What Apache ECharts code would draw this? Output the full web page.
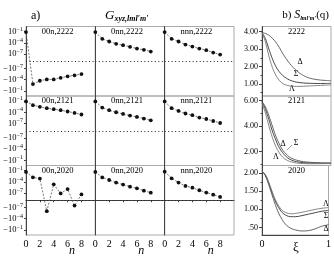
<!DOCTYPE html>
<html><head><meta charset="utf-8">
<script src="https://cdn.jsdelivr.net/npm/echarts@6/dist/echarts.min.js"></script>
<style>html,body{margin:0;padding:0;background:#fff}#c{width:334px;height:256px}</style>
</head><body><div id="c"></div>
<script>
// ---------- data ----------
const nValues = [0, 1, 2, 3, 4, 5, 6, 7, 8];
const panelTitles = [
  ["00n,2222", "0nn,2222", "nnn,2222"],
  ["00n,2121", "0nn,2121", "nnn,2121"],
  ["00n,2020", "0nn,2020", "nnn,2020"]
];
// G_xyz,lml'm' values (panel a)
const g00n_2222 = [0.08, -1.5e-3, -1.9e-4, -8e-5, -8e-5, -3e-5, -1.2e-5, -6.5e-6, -2.9e-6];
const g0nn_2222 = [0.08, 1.2e-3, 2.2e-4, 5.1e-5, 2.3e-5, 8e-6, 2.7e-6, 1.2e-6, 4.2e-7];
const gnnn_2222 = [0.08, 1.2e-3, 2.2e-4, 3.3e-5, 9.5e-6, 2.7e-6, 1.0e-6, 2.2e-7, 6.3e-8];
const g00n_2121 = [0.085, 8.3e-3, 2.9e-3, 1.26e-3, 6.8e-4, 3.6e-4, 1.6e-4, 6.6e-5, 2.5e-5];
const g0nn_2121 = [0.085, 1.9e-3, 3.6e-4, 1.0e-4, 3.5e-5, 1.26e-5, 5.4e-6, 2.0e-6, 6.8e-7];
const gnnn_2121 = [0.085, 1.26e-3, 2.3e-4, 4.6e-5, 1.6e-5, 3.7e-6, 1.5e-6, 4.4e-7, 1.26e-7];
const g00n_2020 = [0.046, 1.6e-3, 7.5e-4, -9.3e-7, 2.0e-5, 7.0e-8, 1.05e-6, -2.8e-8, 3.8e-8];
const g0nn_2020 = [0.046, 1.5e-3, 3.0e-4, 5.9e-5, 1.7e-5, 4.8e-6, 1.7e-6, 3.9e-7, 1.1e-7];
const gnnn_2020 = [0.055, 8.7e-4, 6.0e-5, 7.5e-6, 2.5e-6, 5.0e-7, 1.2e-7, 3.3e-8, 8e-9];
const gTickValues = [1e-1, 1e-4, 1e-7, -1e-7, -1e-4, -1e-1];
const nTickLabels = [0, 2, 4, 6, 8];

// S_lml'm'(q) values (panel b)
const xi = [0, 0.05, 0.1, 0.15, 0.2, 0.25, 0.3, 0.35, 0.4, 0.45, 0.5, 0.6, 0.7, 0.8, 0.9, 1.0];
const s2222_Delta  = [3.95, 3.9, 3.8, 3.62, 3.4, 3.1, 2.75, 2.45, 2.18, 1.95, 1.76, 1.48, 1.32, 1.24, 1.2, 1.18];
const s2222_Sigma  = [3.95, 3.6, 3.0, 2.45, 2.0, 1.7, 1.48, 1.33, 1.22, 1.15, 1.1, 1.05, 1.03, 1.02, 1.02, 1.03];
const s2222_Lambda = [3.95, 3.4, 2.6, 1.95, 1.5, 1.2, 1.02, 0.93, 0.88, 0.86, 0.85, 0.86, 0.88, 0.9, 0.92, 0.94];
const s2121_Delta  = [5.9, 5.5, 4.8, 4.0, 3.2, 2.6, 2.1, 1.8, 1.55, 1.42, 1.32, 1.2, 1.15, 1.12, 1.1, 1.1];
const s2121_Sigma  = [5.9, 5.3, 4.5, 3.6, 2.9, 2.3, 1.9, 1.6, 1.4, 1.28, 1.2, 1.12, 1.09, 1.08, 1.08, 1.08];
const s2121_Lambda = [5.8, 5.0, 4.0, 3.1, 2.4, 1.9, 1.55, 1.35, 1.22, 1.15, 1.1, 1.05, 1.04, 1.04, 1.05, 1.05];
const s2020_Lambda = [2.05, 1.95, 1.75, 1.5, 1.27, 1.1, 0.98, 0.92, 0.89, 0.88, 0.89, 0.92, 0.96, 1.0, 1.03, 1.05];
const s2020_Sigma  = [2.05, 1.94, 1.73, 1.47, 1.23, 1.05, 0.92, 0.85, 0.81, 0.8, 0.8, 0.83, 0.87, 0.91, 0.95, 0.97];
const s2020_Delta  = [2.05, 1.92, 1.68, 1.4, 1.13, 0.9, 0.73, 0.6, 0.52, 0.47, 0.44, 0.41, 0.42, 0.47, 0.54, 0.58];
const sRowNames = ["2222", "2121", "2020"];
const sTickValues = [[1, 2, 3, 4], [2, 4, 6], [0.5, 1, 1.5, 2]];
const sMinorTicks = [[0.5, 1.5, 2.5, 3.5], [1, 3, 5], [0.75, 1.25, 1.75]];
const sRanges = [[0.3, 4.3], [0.9, 6.35], [0.3, 2.2]];
const xiTickLabels = [0, 1];

// ---------- build ----------
const SERIF = "'Liberation Serif', 'DejaVu Serif', serif";
const gSeries = [[g00n_2222, g0nn_2222, gnnn_2222], [g00n_2121, g0nn_2121, gnnn_2121], [g00n_2020, g0nn_2020, gnnn_2020]];
const sSeries = [
  [s2222_Delta, s2222_Sigma, s2222_Lambda],
  [s2121_Delta, s2121_Sigma, s2121_Lambda],
  [s2020_Delta, s2020_Sigma, s2020_Lambda]
];
function symlogPos(v) {
  if (v === 0) return 0;
  const a = Math.log10(Math.abs(v)) + 9;
  return Math.sign(v) * Math.max(0, a);
}
const gTickPos = gTickValues.map(symlogPos);
function gLabel(val) {
  const i = gTickPos.findIndex(p => Math.abs(p - val) < 1e-6);
  if (i < 0) return '';
  const t = gTickValues[i];
  const e = Math.round(Math.log10(Math.abs(t)));
  return '{b|' + (t < 0 ? '\u2212' : '') + '10}{s|\u2212' + (-e) + '}';
}

const colL = [26, 95.33, 164.67], colW = 69.33;
const rowT = [26.5, 96, 165.5], rowH = 69.5;
const rLeft = 262, rW = 69;

const grid = [], xAxis = [], yAxis = [], series = [];
const axisCol = '#444', borderCol = '#aaa';

for (let r = 0; r < 3; r++) {
  for (let c = 0; c < 3; c++) {
    const gi = grid.length;
    grid.push({ left: colL[c], top: rowT[r], width: colW, height: rowH, show: true, borderColor: borderCol, borderWidth: 1, containLabel: false });
    const bottom = r === 2;
    xAxis.push({
      type: 'value', gridIndex: gi, min: 0, max: 10,
      axisLine: { show: bottom, lineStyle: { color: axisCol, width: 1 } },
      axisTick: { show: bottom, length: 2, customValues: nTickLabels, lineStyle: { color: axisCol } },
      axisLabel: { show: bottom, customValues: nTickLabels, fontFamily: SERIF, fontSize: 10, color: '#000', margin: 4 },
      splitLine: { show: false }
    });
    yAxis.push({
      type: 'value', gridIndex: gi, min: -9.4, max: 9.4,
      axisLine: { show: true, onZero: false, lineStyle: { color: axisCol, width: 1 } },
      axisTick: { show: c === 0, length: 2, customValues: gTickPos, lineStyle: { color: axisCol } },
      axisLabel: {
        show: c === 0, customValues: gTickPos, formatter: gLabel, margin: 3,
        rich: {
          b: { fontFamily: SERIF, fontSize: 8.5, color: '#000' },
          s: { fontFamily: SERIF, fontSize: 6, color: '#000', padding: [0, 0, 5, 0] }
        }
      },
      splitLine: { show: false }
    });
    const arr = gSeries[r][c];
    series.push({
      type: 'line', xAxisIndex: gi, yAxisIndex: gi,
      data: nValues.map((n, i) => [n, symlogPos(arr[i])]),
      symbol: 'circle', symbolSize: 3.8, showSymbol: true,
      itemStyle: { color: '#111' },
      lineStyle: { color: '#555', width: 0.8, type: [2, 1.5] },
      animation: false, silent: true,
      markLine: {
        silent: true, symbol: 'none', animation: false,
        label: { show: false },
        lineStyle: { type: [1, 2.5], color: '#222', width: 1 },
        data: [{ yAxis: 0 }]
      }
    });
  }
}

for (let r = 0; r < 3; r++) {
  const gi = grid.length;
  grid.push({ left: rLeft, top: rowT[r], width: rW, height: rowH, show: true, borderColor: borderCol, borderWidth: 1 });
  const bottom = r === 2;
  xAxis.push({
    type: 'value', gridIndex: gi, min: 0, max: 1,
    axisLine: { show: bottom, lineStyle: { color: axisCol } },
    axisTick: { show: false },
    axisLabel: { show: bottom, customValues: xiTickLabels, fontFamily: SERIF, fontSize: 10, color: '#000', margin: 4 },
    splitLine: { show: false }
  });
  const yi = yAxis.length;
  yAxis.push({
    type: 'value', gridIndex: gi, min: sRanges[r][0], max: sRanges[r][1],
    axisLine: { show: true, onZero: false, lineStyle: { color: axisCol } },
    axisTick: { show: true, length: 3, customValues: sTickValues[r], lineStyle: { color: axisCol } },
    axisLabel: {
      show: true, customValues: sTickValues[r], fontFamily: SERIF, fontSize: 8, color: '#000', margin: 4,
      formatter: v => (v < 1 ? v.toFixed(2).replace(/^0/, '') : v.toFixed(2))
    },
    splitLine: { show: false }
  });
  yAxis.push({
    type: 'value', gridIndex: gi, min: sRanges[r][0], max: sRanges[r][1], position: 'left',
    axisLine: { show: false }, axisLabel: { show: false }, splitLine: { show: false },
    axisTick: { show: true, length: 1.5, customValues: sMinorTicks[r], lineStyle: { color: axisCol } }
  });
  const cols = ['#555', '#333', '#777'];
  sSeries[r].forEach((arr, k) => {
    series.push({
      type: 'line', xAxisIndex: gi, yAxisIndex: yi,
      data: xi.map((x, i) => [x, arr[i]]),
      showSymbol: false, smooth: 0.4, animation: false, silent: true,
      lineStyle: { color: cols[k], width: 0.9 }
    });
  });
}

const txt = (x, y, t, size, extra) => ({ type: 'text', x, y, silent: true,
  style: Object.assign({ text: t, font: (extra && extra.italic ? 'italic ' : '') + size + 'px ' + SERIF, fill: '#000', align: 'center', verticalAlign: 'middle' }, extra && extra.style) });

const graphic = [];
for (let r = 0; r < 3; r++) {
  for (let c = 0; c < 3; c++) {
    graphic.push(txt(colL[c] + colW / 2 - 3, rowT[r] + 5, panelTitles[r][c], 8.5));
  }
  graphic.push(txt(rLeft + rW / 2, rowT[r] + 5, sRowNames[r], 8.5));
}
for (let c = 0; c < 3; c++) graphic.push(txt(colL[c] + 46, 251, 'n', 12, { italic: true }));
graphic.push(txt(296, 248, '\u03BE', 13));
// curve labels
const lab = [
  [300, 62, '\u0394'], [296, 74, '\u03A3'], [292, 89, '\u039B'],
  [283, 144, '\u0394'], [296, 143, '\u03A3'], [276, 157, '\u039B'],
  [326, 204, '\u039B'], [326, 216, '\u03A3'], [326, 229, '\u0394']
];
lab.forEach(l => graphic.push(txt(l[0], l[1], l[2], 8)));
graphic.push({ type: 'line', silent: true, shape: { x1: 292, y1: 145, x2: 287, y2: 150 }, style: { stroke: '#555', lineWidth: 0.6 } });

const title = [
  { text: 'a)', left: 26, top: 5, textStyle: { fontFamily: SERIF, fontSize: 12, fontWeight: 'normal', color: '#000' } },
  { text: '{g|G}{s|xyz,lml\u2032m\u2032}', left: 100, top: 3,
    textStyle: { fontWeight: 'normal', rich: { g: { fontFamily: SERIF, fontSize: 13, fontStyle: 'italic', fontWeight: 'normal', color: '#000' },
                         s: { fontFamily: SERIF, fontSize: 8, fontStyle: 'italic', fontWeight: 'bold', color: '#000', padding: [7, 0, 0, 0] } } } },
  { text: '{a|b) }{g|S}{s|lml\u2032m\u2032}{a|(q)}', right: 0, top: 4,
    textStyle: { fontWeight: 'normal', rich: { a: { fontFamily: SERIF, fontSize: 11, fontWeight: 'normal', color: '#000' },
                         g: { fontFamily: SERIF, fontSize: 12, fontStyle: 'italic', fontWeight: 'normal', color: '#000' },
                         s: { fontFamily: SERIF, fontSize: 6, fontStyle: 'italic', fontWeight: 'bold', color: '#000', padding: [6, 0, 0, 0] } } } }
];

const chart = echarts.init(document.getElementById('c'), null, { renderer: 'canvas' });
chart.setOption({ animation: false, backgroundColor: '#fff', title, grid, xAxis, yAxis, series, graphic });
</script>
</body></html>
